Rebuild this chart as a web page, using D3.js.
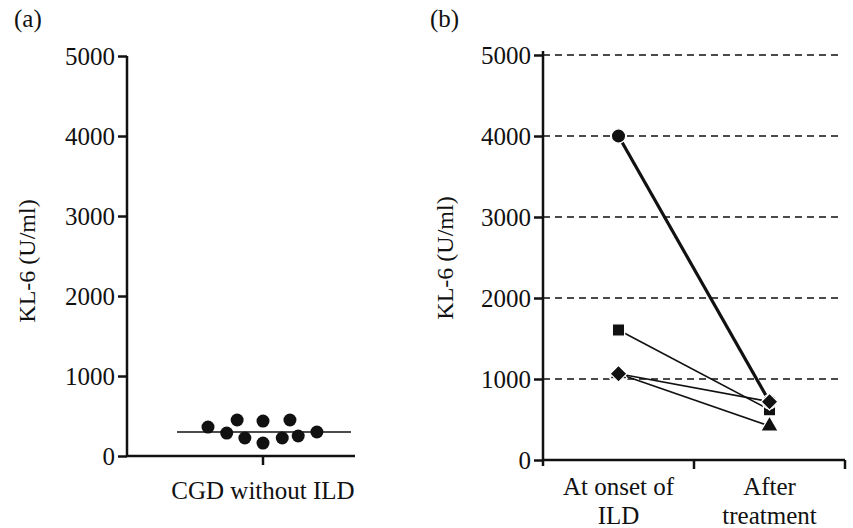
<!DOCTYPE html>
<html>
<head>
<meta charset="utf-8">
<script src="https://cdn.jsdelivr.net/npm/d3@7"></script>
<style>
  body { margin: 0; background: #fff; }
  text { font-family: "Liberation Serif", "Times New Roman", serif; fill: #111; }
</style>
</head>
<body>
<script>
// panel (a) - CGD without ILD, scatter with mean line
const groupA = 'CGD without ILD';
const valuesA = [362, 287, 450, 225, 437, 162, 225, 450, 250, 300];
const jitterA = [-1, -0.66, -0.47, -0.33, 0, 0, 0.35, 0.49, 0.64, 0.98];
const centerA = 300;

// panel (b) - paired values, onset vs after treatment
const stagesB = ['At onset of\nILD', 'After\ntreatment'];
const subjectsB = ['circle', 'square', 'diamond', 'triangle'];
const onsetB = [4000, 1605, 1065, 1065];
const afterB = [720, 620, 720, 420];

const yTicks = [0, 1000, 2000, 3000, 4000, 5000];

const W = 853, H = 528;
const svg = d3.select('body').append('svg').attr('width', W).attr('height', H);
const FS = '25px';

// ---- panel (a)
const yA = d3.scaleLinear().domain([0, 5000]).range([456, 56]);
const xA = d3.scaleBand().domain([groupA]).range([127, 399]);
const jit = d3.scaleLinear().domain([-1, 1]).range([-55, 55]);
const cxA = xA(groupA) + xA.bandwidth() / 2;

const gA = svg.append('g');
gA.append('g').attr('transform', 'translate(127,0)')
  .call(d3.axisLeft(yA).tickValues(yTicks).tickSize(9).tickPadding(3).tickFormat(d3.format('d')))
  .call(g => g.select('.domain').remove());
gA.append('line').attr('x1', 127).attr('x2', 127).attr('y1', yA(5000)).attr('y2', yA(0));
gA.append('line').attr('x1', 127).attr('x2', 355).attr('y1', yA(0)).attr('y2', yA(0));
gA.append('line').attr('x1', cxA).attr('x2', cxA).attr('y1', yA(0)).attr('y2', yA(0) + 9);
gA.selectAll('line').attr('stroke', '#111').attr('stroke-width', 2.5);
gA.selectAll('.tick text').style('font-size', FS).style('font-family', '"Liberation Serif", serif');

gA.append('text').attr('x', cxA).attr('y', 499).attr('text-anchor', 'middle')
  .style('font-size', FS).text(groupA);
gA.append('text').attr('transform', 'translate(35,261) rotate(-90)').attr('text-anchor', 'middle')
  .style('font-size', '24px').text('KL-6 (U/ml)');
gA.append('text').attr('x', 14).attr('y', 27).style('font-size', FS).text('(a)');

gA.append('line').attr('x1', cxA - 86).attr('x2', cxA + 88)
  .attr('y1', yA(centerA)).attr('y2', yA(centerA))
  .attr('stroke', '#111').attr('stroke-width', 1.5);
gA.selectAll('circle.dot').data(valuesA).join('circle').attr('class', 'dot')
  .attr('cx', (d, i) => cxA + jit(jitterA[i]))
  .attr('cy', d => yA(d))
  .attr('r', 6.5)
  .attr('fill', '#111');

// ---- panel (b)
const yB = d3.scaleLinear().domain([0, 5000]).range([460, 55]);
const xB = d3.scaleBand().domain(stagesB).range([543, 845]);
const mid = s => xB(s) + xB.bandwidth() / 2;

const gB = svg.append('g');
gB.selectAll('line.grid').data(yTicks.slice(1)).join('line').attr('class', 'grid')
  .attr('x1', 543).attr('x2', 842).attr('y1', d => yB(d)).attr('y2', d => yB(d))
  .attr('stroke', '#111').attr('stroke-width', 1.3).attr('stroke-dasharray', '7,5');
gB.append('g').attr('transform', 'translate(543,0)')
  .call(d3.axisLeft(yB).tickValues(yTicks).tickSize(9).tickPadding(3).tickFormat(d3.format('d')))
  .call(g => g.select('.domain').remove())
  .call(g => g.selectAll('.tick line').attr('stroke', '#111').attr('stroke-width', 2.5))
  .call(g => g.selectAll('.tick text').style('font-size', FS).style('font-family', '"Liberation Serif", serif'));
const ax = gB.append('g');
ax.append('line').attr('x1', 543).attr('x2', 543).attr('y1', yB(5000) - 4).attr('y2', yB(0) + 6);
ax.append('line').attr('x1', 543).attr('x2', 845).attr('y1', yB(0)).attr('y2', yB(0));
ax.selectAll('line.xt').data(stagesB.map(s => xB(s) + xB.bandwidth()))
  .join('line').attr('class', 'xt')
  .attr('x1', d => d).attr('x2', d => d).attr('y1', yB(0)).attr('y2', yB(0) + 9);
ax.selectAll('line').attr('stroke', '#111').attr('stroke-width', 2.5);

stagesB.forEach(s => {
  const t = gB.append('text').attr('x', mid(s)).attr('y', 495).attr('text-anchor', 'middle')
    .style('font-size', FS);
  s.split('\n').forEach((ln, i) => t.append('tspan').attr('x', mid(s)).attr('dy', i ? 29 : 0).text(ln));
});
gB.append('text').attr('transform', 'translate(453,258) rotate(-90)').attr('text-anchor', 'middle')
  .style('font-size', '24px').text('KL-6 (U/ml)');
gB.append('text').attr('x', 430).attr('y', 27).style('font-size', FS).text('(b)');

const x0 = mid(stagesB[0]), x1 = mid(stagesB[1]);
gB.selectAll('line.pair').data(subjectsB).join('line').attr('class', 'pair')
  .attr('x1', x0).attr('x2', x1)
  .attr('y1', (d, i) => yB(onsetB[i])).attr('y2', (d, i) => yB(afterB[i]))
  .attr('stroke', '#111').attr('stroke-width', (d, i) => i === 0 ? 3.2 : 1.6);

// diamond = square turned 45 degrees
const sym = {
  circle: [d3.symbol(d3.symbolCircle, 160), 0],
  square: [d3.symbol(d3.symbolSquare, 150), 0],
  diamond: [d3.symbol(d3.symbolSquare, 140), 45],
  triangle: [d3.symbol(d3.symbolTriangle, 130), 0]
};
const drawOrder = [3, 1, 0, 2];
drawOrder.forEach(i => {
  const [shape, rot] = sym[subjectsB[i]];
  [[x0, onsetB[i]], [x1, afterB[i]]].forEach(([x, v]) => {
    gB.append('path').attr('d', shape())
      .attr('transform', `translate(${x},${yB(v)}) rotate(${rot})`)
      .attr('fill', '#111').attr('stroke', '#fff').attr('stroke-width', 1.2);
  });
});
</script>
</body>
</html>
